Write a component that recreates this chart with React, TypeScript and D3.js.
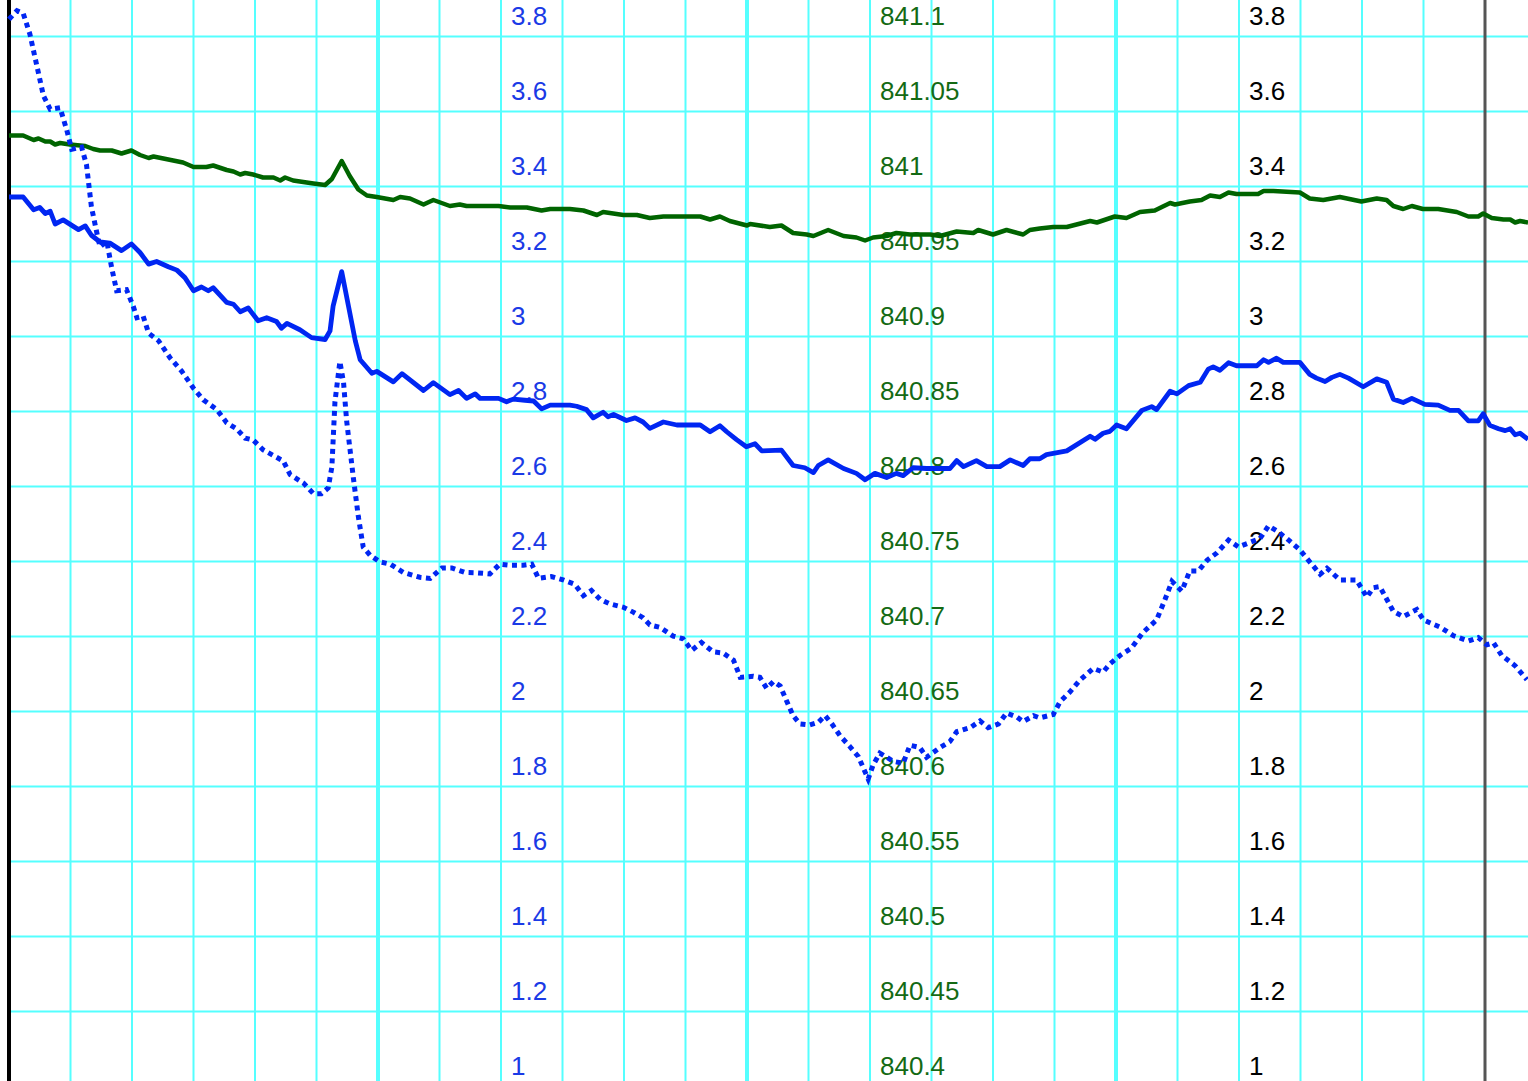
import * as d3 from 'd3';

// hours since the black day line
const greenTime = [0,0.23,0.40,0.48,0.59,0.67,0.75,0.83,0.99,1.24,1.37,1.48,1.67,1.83,1.99,2.13,2.27,2.35,2.83,3.00,3.21,3.32,3.54,3.65,3.76,3.84,3.97,4.13,4.30,4.41,4.49,4.62,4.95,5.14,5.25,5.41,5.54,5.68,5.82,5.98,6.25,6.36,6.52,6.74,6.90,7.17,7.33,7.44,7.71,7.96,8.15,8.42,8.66,8.80,9.12,9.34,9.56,9.66,9.99,10.21,10.42,10.64,11.24,11.40,11.56,11.72,12.00,12.05,12.37,12.56,12.75,12.97,13.08,13.32,13.57,13.78,13.92,14.05,14.27,14.43,14.65,14.98,15.14,15.41,15.68,15.76,16.00,16.22,16.49,16.60,16.76,16.98,17.20,17.58,17.69,17.98,18.17,18.39,18.63,18.88,18.96,19.20,19.39,19.53,19.69,19.83,19.96,20.31,20.40,20.56,20.99,21.15,21.37,21.64,21.99,22.24,22.40,22.51,22.67,22.81,22.99,23.24,23.54,23.73,23.89,23.97,24.11,24.30,24.41,24.49,24.57,24.70];
const greenValue = [841.034,841.034,841.031,841.032,841.030,841.030,841.028,841.029,841.028,841.027,841.025,841.024,841.024,841.022,841.024,841.021,841.019,841.020,841.016,841.013,841.013,841.014,841.011,841.010,841.008,841.009,841.008,841.006,841.006,841.004,841.006,841.004,841.002,841.001,841.005,841.017,841.007,840.998,840.994,840.993,840.991,840.993,840.992,840.988,840.991,840.987,840.988,840.987,840.987,840.987,840.986,840.986,840.984,840.985,840.985,840.984,840.981,840.983,840.981,840.981,840.979,840.980,840.980,840.978,840.980,840.977,840.974,840.975,840.973,840.974,840.969,840.968,840.967,840.971,840.967,840.966,840.964,840.966,840.967,840.969,840.968,840.968,840.967,840.970,840.969,840.971,840.968,840.971,840.968,840.971,840.972,840.973,840.973,840.977,840.976,840.980,840.979,840.983,840.984,840.989,840.988,840.990,840.991,840.994,840.993,840.996,840.995,840.995,840.997,840.997,840.996,840.992,840.991,840.993,840.990,840.992,840.991,840.987,840.985,840.987,840.985,840.985,840.983,840.980,840.980,840.982,840.979,840.978,840.978,840.976,840.977,840.976];

const blueTime = [0,0.23,0.40,0.50,0.59,0.67,0.75,0.88,1.13,1.24,1.34,1.48,1.64,1.83,1.99,2.13,2.27,2.40,2.59,2.73,2.86,3.00,3.13,3.24,3.32,3.54,3.65,3.76,3.89,4.05,4.19,4.35,4.43,4.52,4.73,4.92,5.14,5.22,5.27,5.41,5.52,5.63,5.71,5.90,5.98,6.25,6.39,6.74,6.90,7.17,7.31,7.44,7.58,7.66,7.96,8.09,8.20,8.39,8.53,8.66,8.80,9.12,9.23,9.39,9.50,9.66,9.74,9.83,10.04,10.18,10.31,10.42,10.64,10.86,11.24,11.40,11.56,11.67,11.83,11.99,12.13,12.24,12.56,12.75,12.94,13.08,13.16,13.32,13.57,13.78,13.92,14.08,14.27,14.43,14.54,14.70,14.92,15.30,15.41,15.52,15.73,15.90,16.11,16.28,16.49,16.60,16.76,16.87,17.20,17.58,17.66,17.79,17.90,18.01,18.17,18.42,18.58,18.66,18.88,18.99,19.18,19.37,19.50,19.58,19.69,19.83,19.96,20.29,20.40,20.48,20.61,20.72,20.99,21.15,21.26,21.40,21.51,21.64,21.78,22.02,22.24,22.40,22.51,22.67,22.81,23.02,23.24,23.43,23.57,23.73,23.89,23.97,24.08,24.22,24.33,24.41,24.49,24.57,24.70];
const blueValue = [3.372,3.372,3.338,3.344,3.328,3.334,3.300,3.311,3.285,3.295,3.270,3.252,3.249,3.229,3.247,3.224,3.193,3.200,3.186,3.177,3.157,3.122,3.132,3.122,3.130,3.091,3.086,3.066,3.076,3.042,3.050,3.040,3.022,3.035,3.018,2.997,2.992,3.015,3.081,3.173,3.081,2.989,2.938,2.902,2.907,2.879,2.901,2.856,2.877,2.845,2.856,2.835,2.847,2.835,2.835,2.826,2.833,2.830,2.828,2.807,2.817,2.817,2.814,2.805,2.783,2.798,2.786,2.792,2.776,2.783,2.772,2.755,2.772,2.764,2.764,2.746,2.762,2.746,2.725,2.706,2.714,2.695,2.697,2.656,2.650,2.637,2.656,2.671,2.648,2.635,2.618,2.635,2.624,2.635,2.629,2.650,2.648,2.648,2.669,2.653,2.669,2.653,2.653,2.671,2.656,2.674,2.674,2.685,2.695,2.734,2.726,2.742,2.747,2.764,2.754,2.803,2.813,2.805,2.854,2.847,2.869,2.878,2.913,2.919,2.910,2.930,2.922,2.922,2.938,2.931,2.942,2.931,2.931,2.899,2.889,2.880,2.891,2.899,2.889,2.866,2.887,2.878,2.833,2.824,2.835,2.819,2.817,2.803,2.803,2.775,2.775,2.794,2.763,2.754,2.749,2.754,2.738,2.742,2.726];

const dottedTime = [0,0.13,0.23,0.34,0.45,0.56,0.67,0.83,0.94,1.02,1.18,1.26,1.34,1.43,1.48,1.59,1.67,1.75,1.91,2.02,2.08,2.18,2.27,2.43,2.62,2.81,3.00,3.16,3.38,3.54,3.70,3.84,3.97,4.13,4.35,4.46,4.57,4.79,4.95,5.08,5.19,5.25,5.30,5.38,5.44,5.49,5.60,5.68,5.76,5.87,6.03,6.20,6.41,6.68,6.85,7.04,7.20,7.41,7.60,7.82,7.98,8.15,8.36,8.50,8.61,8.82,9.01,9.20,9.34,9.47,9.61,9.77,9.99,10.15,10.31,10.42,10.59,10.80,10.96,11.10,11.26,11.45,11.61,11.78,11.89,12.10,12.21,12.32,12.43,12.54,12.65,12.75,12.86,13.02,13.16,13.27,13.38,13.51,13.67,13.81,13.97,14.05,14.16,14.38,14.54,14.65,14.81,14.92,15.14,15.30,15.41,15.63,15.79,15.92,16.09,16.22,16.39,16.49,16.66,16.76,16.98,17.09,17.25,17.41,17.63,17.79,17.90,18.07,18.25,18.44,18.66,18.80,18.91,19.07,19.20,19.34,19.48,19.64,19.83,19.99,20.18,20.34,20.48,20.61,20.78,20.99,21.13,21.32,21.43,21.64,21.91,22.08,22.18,22.29,22.51,22.67,22.89,23.00,23.27,23.49,23.73,23.89,24.03,24.14,24.27,24.49,24.68];
const dottedValue = [3.846,3.869,3.862,3.806,3.724,3.642,3.606,3.610,3.550,3.499,3.505,3.458,3.346,3.275,3.239,3.254,3.183,3.122,3.125,3.081,3.050,3.055,3.009,2.989,2.943,2.907,2.862,2.831,2.805,2.770,2.754,2.729,2.724,2.698,2.678,2.668,2.632,2.609,2.581,2.581,2.596,2.652,2.826,2.933,2.877,2.775,2.622,2.520,2.438,2.417,2.399,2.393,2.371,2.358,2.355,2.383,2.383,2.371,2.370,2.367,2.393,2.390,2.390,2.393,2.355,2.360,2.351,2.339,2.309,2.323,2.299,2.287,2.278,2.265,2.250,2.231,2.224,2.201,2.194,2.163,2.184,2.159,2.156,2.137,2.091,2.094,2.091,2.062,2.080,2.068,2.026,1.989,1.967,1.964,1.971,1.989,1.967,1.936,1.907,1.880,1.820,1.857,1.889,1.867,1.862,1.910,1.904,1.878,1.904,1.920,1.946,1.957,1.975,1.957,1.967,1.996,1.985,1.973,1.989,1.983,1.992,2.026,2.052,2.083,2.115,2.105,2.127,2.150,2.169,2.211,2.244,2.300,2.347,2.321,2.375,2.375,2.403,2.423,2.457,2.439,2.451,2.461,2.495,2.482,2.461,2.431,2.403,2.366,2.382,2.351,2.351,2.305,2.330,2.333,2.267,2.253,2.272,2.244,2.225,2.202,2.188,2.197,2.178,2.183,2.150,2.122,2.085];

const blueTicks = [1,1.2,1.4,1.6,1.8,2,2.2,2.4,2.6,2.8,3,3.2,3.4,3.6,3.8];
const greenTicks = [840.4,840.45,840.5,840.55,840.6,840.65,840.7,840.75,840.8,840.85,840.9,840.95,841,841.05,841.1];
const hourLines = d3.range(0, 25);
const labelHours = [8, 14, 20]; // blue, green, black label columns

const W = 1528;
const H = 1081;
const FONT = '"Liberation Sans", Arial, sans-serif';

const x = d3.scaleLinear().domain([0, 24]).range([9, 1485]);
const yBlue = d3.scaleLinear().domain([1, 3.8]).range([1086.5, 36.5]);
const yGreen = d3.scaleLinear().domain([840.4, 841.1]).range([1086.5, 36.5]);
const fmt = d3.format('~g');

const App = () => {
  const pts = (ts: number[], vs: number[]) => ts.map((t, i) => [t, vs[i]] as [number, number]);
  const blueLine = d3.line<[number, number]>().x(d => x(d[0])).y(d => yBlue(d[1]));
  const greenLine = d3.line<[number, number]>().x(d => x(d[0])).y(d => yGreen(d[1]));

  return (
    <svg width={W} height={H} style={{ position: 'absolute', left: 0, top: 0, background: '#fff' }}>
      {/* horizontal grid */}
      {blueTicks.map(v => (
        <line key={'h' + v} x1={x(0)} x2={W} y1={yBlue(v)} y2={yBlue(v)} stroke="#55ffff" strokeWidth={2} />
      ))}
      {/* vertical grid, hour lines */}
      {hourLines.map(h => {
        let stroke = '#55ffff';
        let sw = 2;
        if (h === 0) { stroke = '#000'; sw = 4; }
        else if (h === 24) { stroke = '#555'; sw = 3; }
        else if (h % 6 === 0) sw = 4;
        return <line key={'v' + h} x1={x(h)} x2={x(h)} y1={0} y2={H} stroke={stroke} strokeWidth={sw} />;
      })}
      {/* axis labels */}
      <g fontFamily={FONT} fontSize={26}>
        {blueTicks.map(v => (
          <text key={'b' + v} x={x(labelHours[0]) + 10} y={yBlue(v) - 11.5} fill="#1a3ae6">{fmt(v)}</text>
        ))}
        {greenTicks.map(v => (
          <text key={'g' + v} x={x(labelHours[1]) + 10} y={yGreen(v) - 11.5} fill="#146a14">{fmt(v)}</text>
        ))}
        {blueTicks.map(v => (
          <text key={'k' + v} x={x(labelHours[2]) + 10} y={yBlue(v) - 11.5} fill="#000">{fmt(v)}</text>
        ))}
      </g>
      {/* series */}
      <path d={greenLine(pts(greenTime, greenValue)) || ''} fill="none" stroke="#006400" strokeWidth={4.5} strokeLinejoin="round" />
      <path d={blueLine(pts(blueTime, blueValue)) || ''} fill="none" stroke="#0026f2" strokeWidth={4.8} strokeLinejoin="round" />
      <path d={blueLine(pts(dottedTime, dottedValue)) || ''} fill="none" stroke="#0026f2" strokeWidth={5} strokeDasharray="5 4.5" />
    </svg>
  );
};

export default App;
